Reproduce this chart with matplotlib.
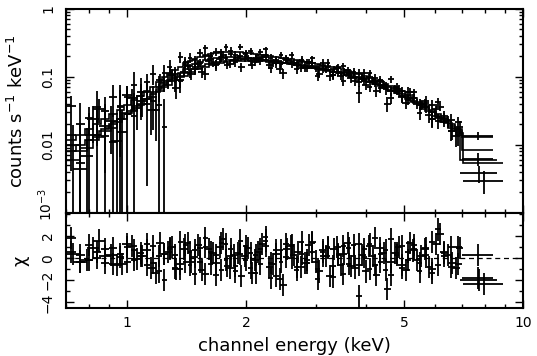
import numpy as np
import matplotlib
matplotlib.use('Agg')
import matplotlib.pyplot as plt
from matplotlib.ticker import FixedLocator, FixedFormatter, NullFormatter, LogLocator, MultipleLocator

plt.rcParams['font.family'] = ['DejaVu Sans']
plt.rcParams['font.size'] = 10
plt.rcParams['mathtext.default'] = 'regular'

# SIS channel grid (keV) shared by both SIS detectors
edges_sis = [0.70, 0.74, 0.78, 0.82, 0.86, 0.90, 0.94, 0.98, 1.02, 1.06,
             1.10, 1.14, 1.18, 1.22, 1.26, 1.30, 1.34, 1.38, 1.42, 1.46,
             1.50, 1.55, 1.60, 1.65, 1.70, 1.75, 1.80, 1.85, 1.90, 1.96,
             2.02, 2.08, 2.14, 2.20, 2.27, 2.34, 2.41, 2.48, 2.56, 2.64,
             2.72, 2.80, 2.89, 2.98, 3.07, 3.16, 3.26, 3.36, 3.46, 3.57,
             3.68, 3.79, 3.91, 4.03, 4.16, 4.29, 4.43, 4.57, 4.72, 4.87,
             5.03, 5.20, 5.38, 5.57, 5.77, 5.98, 6.20, 6.45, 6.72, 7.00, 8.40]

# folded model, counts s^-1 keV^-1
model_s0 = [0.012, 0.014, 0.017, 0.020, 0.024, 0.028, 0.033, 0.038, 0.045, 0.052,
            0.062, 0.072, 0.085, 0.098, 0.112, 0.127, 0.142, 0.158, 0.172, 0.185,
            0.198, 0.210, 0.219, 0.226, 0.231, 0.234, 0.235, 0.234, 0.231, 0.228,
            0.223, 0.218, 0.213, 0.207, 0.201, 0.196, 0.191, 0.186, 0.181, 0.176,
            0.171, 0.166, 0.160, 0.155, 0.150, 0.145, 0.139, 0.133, 0.127, 0.121,
            0.115, 0.109, 0.103, 0.097, 0.091, 0.085, 0.079, 0.073, 0.067, 0.061,
            0.055, 0.049, 0.043, 0.038, 0.033, 0.028, 0.024, 0.020, 0.017, 0.013]
model_s1 = [0.008, 0.010, 0.012, 0.014, 0.017, 0.020, 0.024, 0.028, 0.033, 0.039,
            0.047, 0.056, 0.066, 0.077, 0.089, 0.102, 0.116, 0.130, 0.143, 0.155,
            0.166, 0.176, 0.184, 0.190, 0.195, 0.198, 0.199, 0.198, 0.196, 0.193,
            0.189, 0.185, 0.181, 0.176, 0.171, 0.166, 0.162, 0.158, 0.154, 0.149,
            0.145, 0.141, 0.136, 0.132, 0.127, 0.123, 0.118, 0.113, 0.108, 0.103,
            0.098, 0.093, 0.088, 0.083, 0.078, 0.073, 0.068, 0.063, 0.058, 0.053,
            0.048, 0.043, 0.038, 0.034, 0.030, 0.026, 0.022, 0.019, 0.016, 0.0085]
# error / model
relerr_sis = [1.2, 1.5, 0.9, 1.3, 1.1, 0.9, 1.2, 0.8, 0.95, 0.7,
              0.6, 0.5, 0.45, 0.38, 0.33, 0.28, 0.25, 0.22, 0.2, 0.18,
              0.16, 0.15, 0.15, 0.14, 0.14, 0.13, 0.13, 0.13, 0.12, 0.12,
              0.12, 0.12, 0.12, 0.12, 0.12, 0.12, 0.12, 0.12, 0.12, 0.12,
              0.12, 0.12, 0.12, 0.12, 0.13, 0.13, 0.13, 0.13, 0.13, 0.13,
              0.13, 0.14, 0.14, 0.14, 0.14, 0.15, 0.15, 0.15, 0.16, 0.16,
              0.17, 0.17, 0.18, 0.19, 0.2, 0.21, 0.22, 0.24, 0.26, 0.15]
chi_s0 = [1.8, 0.3, -0.2, 0.6, -0.4, 0.9, 0.1, -0.3, 0.7, 0.2,
          -0.6, 1.1, -1.2, 0.4, 0.8, -0.9, 1.5, -0.3, 0.6, -1.4,
          0.9, 1.8, -0.5, 0.3, -1.1, 1.3, 0.2, -0.7, 1.6, -0.2,
          0.5, -1.3, 0.8, 1.9, -0.4, -1.6, 0.7, 0.1, 1.2, -0.8,
          0.4, -0.2, 1.4, -1.0, 0.6, 0.9, -1.7, 0.3, 1.1, -0.5,
          0.2, -3.4, 0.8, 1.3, -0.6, 0.4, -1.1, 1.7, 0.3, -0.9,
          0.6, 1.2, -0.4, 0.9, -1.3, 2.6, 0.5, -0.8, 1.0, 0.3]
chi_s1 = [0.6, -0.3, 1.2, 0.0, 0.8, -0.5, 0.4, 1.0, -0.2, 0.5,
          1.3, -0.4, 0.2, -2.0, 0.9, 0.3, -1.0, 1.2, -0.6, 0.7,
          -0.3, 1.0, 0.6, -1.5, 1.4, -0.2, 0.8, -1.2, 0.4, 1.1,
          -0.9, 0.3, -0.5, 1.6, -1.8, 0.7, -0.3, 1.3, 0.0, -1.1,
          1.5, -0.4, 0.6, -1.9, 0.2, 1.0, -0.7, 0.4, -1.4, 0.9,
          1.2, -0.6, 0.1, -1.0, 1.8, -0.3, 0.7, -1.5, 0.5, 1.1,
          -0.2, 0.8, -1.2, 0.3, 1.5, -0.6, 0.2, 1.0, -0.5, -1.8]

# GIS2 channel grid (keV)
edges_g2 = [0.70, 0.76, 0.82, 0.88, 0.94, 1.00, 1.06, 1.12, 1.18, 1.24,
            1.30, 1.36, 1.42, 1.48, 1.54, 1.61, 1.68, 1.75, 1.82, 1.90,
            1.98, 2.06, 2.15, 2.24, 2.33, 2.43, 2.53, 2.64, 2.75, 2.87,
            2.99, 3.12, 3.25, 3.39, 3.53, 3.68, 3.84, 4.00, 4.17, 4.35,
            4.54, 4.74, 4.95, 5.17, 5.40, 5.64, 5.90, 6.17, 6.46, 6.77,
            7.05, 8.90]
model_g2 = [0.006, 0.009, 0.013, 0.018, 0.024, 0.031, 0.040, 0.050, 0.062, 0.075,
            0.089, 0.103, 0.117, 0.130, 0.142, 0.152, 0.160, 0.166, 0.170, 0.172,
            0.172, 0.171, 0.169, 0.166, 0.162, 0.158, 0.153, 0.148, 0.143, 0.137,
            0.131, 0.125, 0.119, 0.113, 0.106, 0.099, 0.092, 0.085, 0.078, 0.071,
            0.064, 0.057, 0.050, 0.044, 0.038, 0.032, 0.027, 0.022, 0.018, 0.015,
            0.0055]
relerr_g2 = [1.6, 1.2, 1.0, 0.85, 0.7, 0.55, 0.45, 0.38, 0.32, 0.27,
             0.23, 0.2, 0.18, 0.16, 0.15, 0.14, 0.13, 0.13, 0.12, 0.12,
             0.12, 0.12, 0.12, 0.12, 0.12, 0.12, 0.12, 0.12, 0.12, 0.12,
             0.12, 0.12, 0.13, 0.13, 0.13, 0.13, 0.14, 0.14, 0.14, 0.15,
             0.15, 0.16, 0.16, 0.17, 0.18, 0.19, 0.2, 0.22, 0.24, 0.26, 0.2]
chi_g2 = [0.4, -0.2, 1.6, 0.3, -0.5, 1.1, 0.2, -0.9, 1.4, 0.6,
          -1.0, 0.8, -0.3, 1.2, -1.4, 0.5, 1.0, -0.7, 0.3, -1.6,
          0.9, -0.2, 1.3, -0.8, 0.4, -2.4, 1.1, 0.6, -0.4, 1.5,
          -1.2, 0.2, 0.8, -0.6, 1.4, -0.9, 0.3, 1.1, -1.5, 0.5,
          -0.3, 1.0, -1.1, 0.7, 0.2, -0.8, 1.3, 0.6, -0.4, 0.9, -2.3]

# GIS3 channel grid (keV)
edges_g3 = [0.73, 0.79, 0.85, 0.91, 0.97, 1.03, 1.09, 1.15, 1.21, 1.27,
            1.33, 1.39, 1.45, 1.51, 1.57, 1.64, 1.71, 1.78, 1.86, 1.94,
            2.02, 2.10, 2.19, 2.28, 2.38, 2.48, 2.58, 2.69, 2.81, 2.93,
            3.05, 3.18, 3.32, 3.46, 3.60, 3.76, 3.92, 4.08, 4.26, 4.44,
            4.64, 4.84, 5.06, 5.28, 5.52, 5.77, 6.03, 6.31, 6.61, 6.92, 8.60]
model_g3 = [0.008, 0.012, 0.016, 0.022, 0.029, 0.037, 0.047, 0.059, 0.072, 0.086,
            0.101, 0.116, 0.130, 0.143, 0.155, 0.165, 0.172, 0.177, 0.180, 0.181,
            0.180, 0.178, 0.175, 0.171, 0.167, 0.162, 0.157, 0.151, 0.145, 0.139,
            0.133, 0.127, 0.120, 0.113, 0.106, 0.099, 0.092, 0.085, 0.077, 0.070,
            0.063, 0.056, 0.049, 0.042, 0.036, 0.030, 0.025, 0.021, 0.017, 0.006]
relerr_g3 = [1.5, 1.1, 0.95, 0.8, 0.65, 0.5, 0.42, 0.35, 0.3, 0.25,
             0.22, 0.19, 0.17, 0.16, 0.15, 0.14, 0.13, 0.13, 0.12, 0.12,
             0.12, 0.12, 0.12, 0.12, 0.12, 0.12, 0.12, 0.12, 0.12, 0.12,
             0.12, 0.12, 0.13, 0.13, 0.13, 0.13, 0.14, 0.14, 0.14, 0.15,
             0.15, 0.16, 0.16, 0.17, 0.18, 0.19, 0.2, 0.22, 0.24, 0.18]
chi_g3 = [-0.3, 0.9, 0.2, -0.6, 1.3, -0.1, 0.7, -1.3, 0.4, 1.0,
          -0.5, 1.4, 0.1, -1.1, 0.8, -0.4, 1.7, -0.9, 0.5, 0.2,
          -1.3, 0.6, 1.1, -0.5, -1.9, 0.8, 0.3, -0.8, 1.2, -0.3,
          0.7, -1.6, 1.0, 0.4, -0.7, 1.3, -1.2, 0.2, 0.9, -2.8,
          0.5, -0.6, 1.4, -0.2, 0.8, -1.0, 2.2, 0.3, -0.9, -2.0]

fig = plt.figure(figsize=(5.37, 3.56), dpi=100)
ax1 = fig.add_axes([0.123, 0.402, 0.851, 0.573])
ax2 = fig.add_axes([0.123, 0.135, 0.851, 0.267], sharex=ax1)


def draw(edges, model, relerr, chi):
    e = np.array(edges)
    m = np.array(model)
    c = np.array(chi)
    cen = (e[:-1] + e[1:]) / 2
    half = (e[1:] - e[:-1]) / 2
    err = np.array(relerr) * m
    data = m + c * err
    ax1.errorbar(cen, data, xerr=half, yerr=err, fmt='none', ecolor='k', elinewidth=1.3)
    ax1.stairs(m, e, baseline=None, color='k', lw=1.2)
    ax2.errorbar(cen, c, xerr=half, yerr=1, fmt='none', ecolor='k', elinewidth=1.3)


draw(edges_sis, model_s0, relerr_sis, chi_s0)
draw(edges_sis, model_s1, relerr_sis, chi_s1)
draw(edges_g2, model_g2, relerr_g2, chi_g2)
draw(edges_g3, model_g3, relerr_g3, chi_g3)
ax2.axhline(0, color='k', lw=0.9, ls=(0, (4, 3)))

ax1.set_xscale('log')
ax1.set_yscale('log')
ax1.set_xlim(0.7, 10)
ax1.set_ylim(1e-3, 1)
ax2.set_ylim(-4.5, 4.1)

for ax in (ax1, ax2):
    ax.xaxis.set_major_locator(FixedLocator([1, 2, 5, 10]))
    ax.xaxis.set_minor_locator(FixedLocator([0.7, 0.8, 0.9, 3, 4, 6, 7, 8, 9]))
    ax.xaxis.set_minor_formatter(NullFormatter())
    ax.tick_params(which='both', direction='in', top=True, right=True, width=1)
    ax.tick_params(which='major', length=6)
    ax.tick_params(which='minor', length=3)
    ax.tick_params(axis='x', pad=6)
    ax.tick_params(axis='y', pad=8, labelrotation=90)
    for s in ax.spines.values():
        s.set_linewidth(1.5)

ax2.xaxis.set_major_formatter(FixedFormatter(['1', '2', '5', '10']))
ax1.tick_params(axis='x', labelbottom=False)

# the 10^-3 label is written separately, lifted off the panel boundary
ax1.yaxis.set_major_locator(FixedLocator([1e-3, 1e-2, 0.1, 1]))
ax1.yaxis.set_major_formatter(FixedFormatter(['', '0.01', '0.1', '1']))
ax1.yaxis.set_minor_locator(LogLocator(base=10, subs=np.arange(2, 10) * 1.0))
ax1.yaxis.set_minor_formatter(NullFormatter())
ax1.annotate(r'10$^{-3}$', xy=(0, 1e-3), xycoords=('axes fraction', 'data'),
             xytext=(-8, 6), textcoords='offset points',
             rotation=90, ha='right', va='center', fontsize=10)
ax2.yaxis.set_major_locator(FixedLocator([-4, -2, 0, 2]))
ax2.yaxis.set_minor_locator(MultipleLocator(1))

for ax in (ax1, ax2):
    for lab in ax.get_yticklabels():
        lab.set_va('center')

ax1.set_ylabel(r'counts s$^{-1}$ keV$^{-1}$', fontsize=13)
ax2.set_ylabel('χ', fontsize=13)
ax1.yaxis.set_label_coords(-0.086, 0.5)
ax2.yaxis.set_label_coords(-0.08, 0.5)
ax2.set_xlabel('channel energy (keV)', fontsize=13, labelpad=5)

fig.savefig('out.png', dpi=100)
